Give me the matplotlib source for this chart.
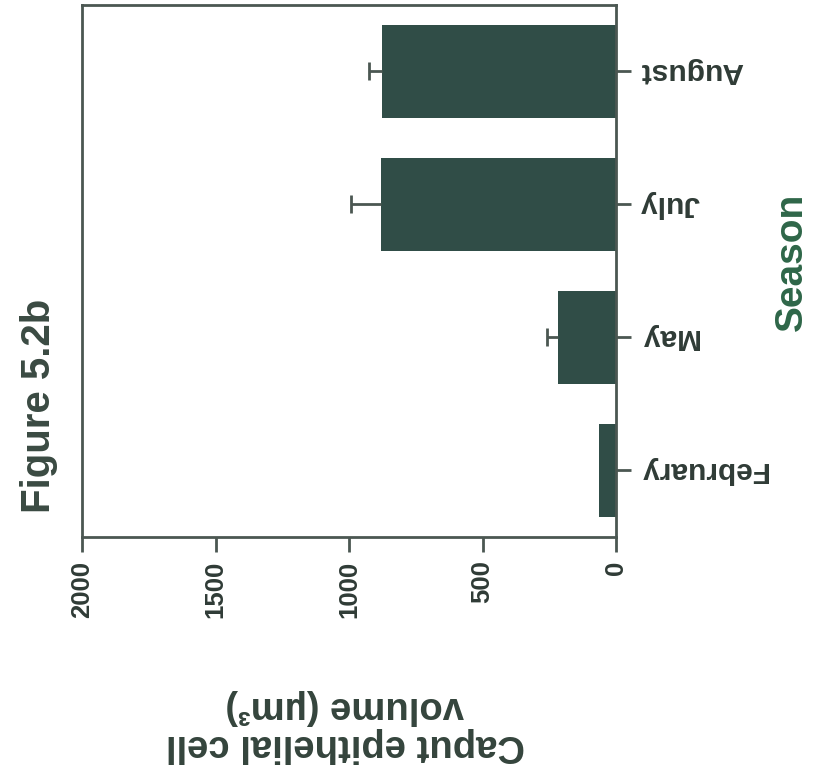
import numpy as np
import matplotlib.pyplot as plt

plt.rcParams['font.family'] = ['Liberation Sans', 'DejaVu Sans']
plt.rcParams['font.weight'] = 'bold'

# caput epithelial cell volume by season
seasons = ['February', 'May', 'July', 'August']
volume = [64, 217, 880, 877]
volume_err = [np.nan, 42, 113, 49]

bar_col = '#304d47'
txt_col = '#2f3b36'
axis_col = '#4b5752'

fig = plt.figure(figsize=(8.16, 7.79), dpi=100)
ax = fig.add_axes([0.1005, 0.3107, 0.6544, 0.683])

pos = np.arange(len(seasons))
vals = np.array(volume, dtype=float)
errs = np.array(volume_err, dtype=float)

ax.barh(pos, vals, height=0.7, color=bar_col, edgecolor='none', zorder=2)
# one-sided error bars (upper only)
ax.hlines(pos, vals, vals + errs, color=axis_col, lw=2, zorder=3)
ax.plot(vals + errs, pos, ls='none', marker='|', ms=13, mew=2, color=axis_col, zorder=3)

ax.set_xlim(2000, 0)
ax.set_ylim(-0.5, 3.5)
ax.set_xticks([2000, 1500, 1000, 500, 0])
ax.set_xticklabels(['2000', '1500', '1000', '500', '0'], rotation=90, va='top')
ax.set_yticks(pos)
ax.yaxis.tick_right()
ax.set_yticklabels(seasons, rotation=180, va='center')

ax.tick_params(axis='x', direction='out', length=11, width=2, pad=6,
               labelsize=18.5, colors=axis_col, labelcolor=txt_col)
ax.tick_params(axis='y', direction='out', length=11, width=2, pad=6,
               labelsize=21.5, colors=axis_col, labelcolor=txt_col)
for s in ax.spines.values():
    s.set_color(axis_col)
    s.set_linewidth(2)

fig.text(0.048, 0.479, 'Figure 5.2b', rotation=90, ha='center', va='center',
         fontsize=29, color='#3a4a42')
fig.text(0.971, 0.664, 'Season', rotation=90, ha='center', va='center',
         fontsize=28, color='#2e6648')
fig.text(0.423, 0.068, 'Caput epithelial cell\nvolume (µm³)', rotation=180,
         ha='center', va='center', fontsize=27.5, color='#34443c',
         multialignment='center', linespacing=1.1)

fig.savefig('out.png', dpi=100)
